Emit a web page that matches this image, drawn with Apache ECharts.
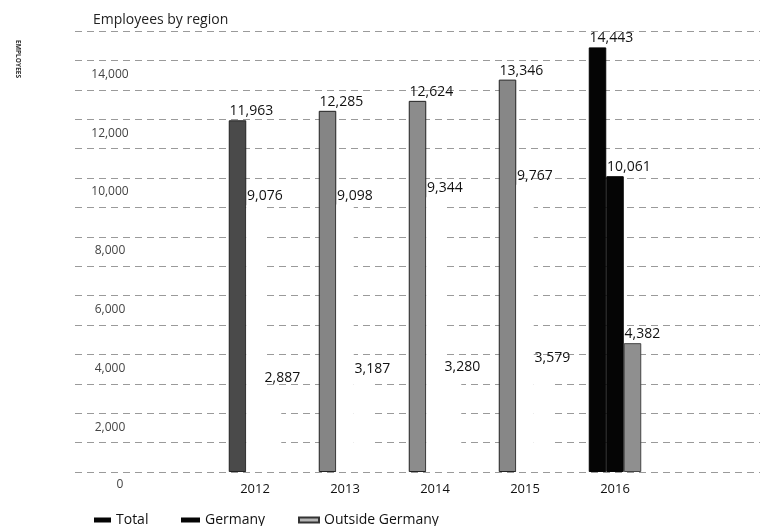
<!DOCTYPE html>
<html>
<head>
<meta charset="utf-8">
<script src="https://cdn.jsdelivr.net/npm/echarts@6/dist/echarts.min.js"></script>
<style>
html,body{margin:0;padding:0;background:#fff;}
#c{width:762px;height:526px;}
</style>
</head>
<body>
<div id="c"></div>
<script>
const categories = ['2012', '2013', '2014', '2015', '2016'];
const totalValues = [11963, 12285, 12624, 13346, 14443];
const germanyValues = [9076, 9098, 9344, 9767, 10061];
const outsideValues = [2887, 3187, 3280, 3579, 4382];
const yTicks = [0, 2000, 4000, 6000, 8000, 10000, 12000, 14000];

const FONT = '"Open Sans", "DejaVu Sans", sans-serif';
const totalColors = ['#4a4a4a', '#858585', '#8c8c8c', '#878787', '#050505'];
const germanyColors = ['#ffffff', '#ffffff', '#ffffff', '#ffffff', '#050505'];
const outsideColors = ['#ffffff', '#ffffff', '#ffffff', '#ffffff', '#8f8f8f'];

const fmt = v => v.toLocaleString('en-US');

function mk(values, colors, border) {
  return values.map((v, i) => ({
    value: v,
    itemStyle: { color: colors[i], borderColor: border[i], borderWidth: border[i] === 'none' ? 0 : 1 }
  }));
}

const labelCfg = {
  show: true, position: 'top', align: 'left', offset: [-8, 0], distance: 2,
  fontFamily: FONT, fontSize: 14, color: '#111',
  formatter: p => fmt(p.value)
};

const legendText = { fontFamily: FONT, fontSize: 14, color: '#111' };

const chart = echarts.init(document.getElementById('c'));
chart.setOption({
  animation: false,
  backgroundColor: '#ffffff',
  title: {
    text: 'Employees by region', left: 88, top: 8,
    textStyle: { fontFamily: FONT, fontSize: 14, fontWeight: 'normal', color: '#222' }
  },
  graphic: [{
    type: 'text', left: 14, top: 40, rotation: -Math.PI / 2,
    style: { text: 'EMPLOYEES', font: 'bold 6.6px ' + FONT, fill: '#333' }
  }],
  legend: [
    { left: 89, top: 508, itemWidth: 17, itemHeight: 5, icon: 'rect', textStyle: legendText, data: ['Total'] },
    { left: 176, top: 508, itemWidth: 19, itemHeight: 5, icon: 'rect', textStyle: legendText, data: ['Germany'] },
    { left: 293, top: 508, itemWidth: 20, itemHeight: 5, icon: 'rect', textStyle: legendText, data: ['Outside Germany'] }
  ],
  grid: [
    { left: 210, right: 102, top: 31, bottom: 54 },
    { left: 75, right: 2, top: 31, bottom: 54 }
  ],
  xAxis: [
    {
      type: 'category', data: categories, gridIndex: 0,
      axisLine: { show: false }, axisTick: { show: false },
      axisLabel: { fontFamily: FONT, fontSize: 13, color: '#111', margin: 11 }
    },
    { type: 'category', data: [''], gridIndex: 1, show: false }
  ],
  yAxis: [
    {
      type: 'value', gridIndex: 0, min: 0, max: 15000, interval: 1000,
      splitLine: { show: false }, axisLine: { show: false }, axisTick: { show: false },
      axisLabel: {
        margin: 100, align: 'center', verticalAlign: 'top',
        fontFamily: FONT, fontSize: 12, color: '#444',
        formatter: v => v === 0 ? '{z|0}' : (yTicks.indexOf(v) >= 0 ? '{n|' + fmt(v) + '}' : ''),
        rich: {
          n: { fontFamily: FONT, fontSize: 12, color: '#444', padding: [8, 0, 0, 0] },
          z: { fontFamily: FONT, fontSize: 12, color: '#444', padding: [7, 0, 0, 20] }
        }
      }
    },
    {
      type: 'value', gridIndex: 1, min: 0, max: 15000, interval: 1000,
      axisLine: { show: false }, axisTick: { show: false }, axisLabel: { show: false },
      splitLine: { show: true, lineStyle: { color: '#9a9a9a', width: 1, type: [7, 5] } }
    }
  ],
  series: [
    {
      name: 'Total', type: 'bar', xAxisIndex: 0, yAxisIndex: 0,
      barWidth: 17.5, barGap: '0%',
      itemStyle: { color: '#050505' },
      data: mk(totalValues, totalColors, ['#222', '#222', '#222', '#222', '#050505']),
      label: labelCfg
    },
    {
      name: 'Germany', type: 'bar', xAxisIndex: 0, yAxisIndex: 0,
      barWidth: 17.5, barGap: '0%',
      itemStyle: { color: '#050505' },
      data: mk(germanyValues, germanyColors, ['none', 'none', 'none', 'none', '#050505']),
      label: labelCfg
    },
    {
      name: 'Outside Germany', type: 'bar', xAxisIndex: 0, yAxisIndex: 0,
      barWidth: 17.5, barGap: '0%',
      itemStyle: { color: '#b5b5b5', borderColor: '#333', borderWidth: 1 },
      data: mk(outsideValues, outsideColors, ['none', 'none', 'none', 'none', '#444']),
      label: labelCfg
    }
  ]
});
</script>
</body>
</html>
